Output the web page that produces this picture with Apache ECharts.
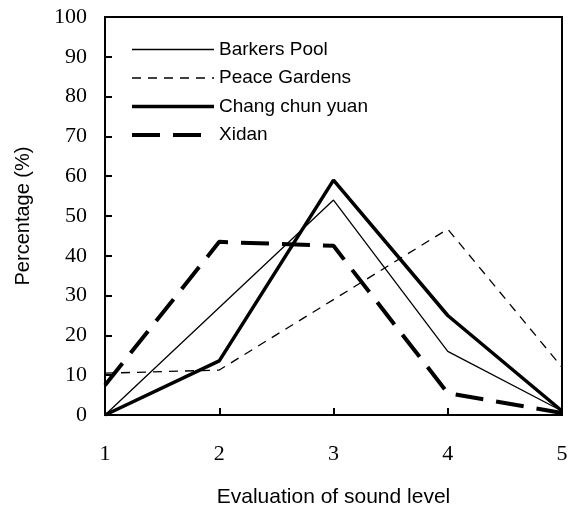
<!DOCTYPE html>
<html>
<head>
<meta charset="utf-8">
<script src="https://cdn.jsdelivr.net/npm/echarts@6/dist/echarts.min.js"></script>
<style>
  body { margin: 0; background: #fff; }
  #chart { width: 578px; height: 513px; }
</style>
</head>
<body>
<div id="chart"></div>
<script>
  // evaluation levels on the x axis
  var levels = [1, 2, 3, 4, 5];
  var barkersPool = [0, 27, 54, 16, 1];
  var peaceGardens = [10.5, 11.3, 29, 46.7, 12];
  var changChunYuan = [0, 13.6, 59, 25, 1];
  var xidan = [7.5, 43.5, 42.5, 5.5, 0.5];

  function pairs(vals) {
    return levels.map(function (x, i) { return [x, vals[i]]; });
  }

  var chart = echarts.init(document.getElementById('chart'));
  var option = {
    animation: false,
    backgroundColor: '#fff',
    grid: {
      left: 105, top: 17, right: 16, bottom: 95,
      show: true, borderColor: '#000', borderWidth: 2
    },
    legend: {
      orient: 'vertical',
      left: 125, top: 35,
      itemWidth: 82, itemHeight: 14,
      itemGap: 9.5,
      itemStyle: { opacity: 0 },
      lineStyle: { width: 'inherit' },
      textStyle: { fontFamily: 'Liberation Sans', fontSize: 19, color: '#000' },
      data: ['Barkers Pool', 'Peace Gardens', 'Chang chun yuan', 'Xidan']
    },
    xAxis: {
      type: 'value', min: 1, max: 5, interval: 1,
      name: 'Evaluation of sound level',
      nameLocation: 'middle', nameGap: 72,
      nameTextStyle: { fontFamily: 'Liberation Sans', fontSize: 21, color: '#000' },
      axisLine: { lineStyle: { color: '#000', width: 2 } },
      axisTick: { inside: true, length: 7, lineStyle: { color: '#000', width: 2 } },
      axisLabel: { margin: 28, fontFamily: 'Liberation Serif', fontSize: 22, color: '#000' },
      splitLine: { show: false }
    },
    yAxis: {
      type: 'value', min: 0, max: 100, interval: 10,
      name: 'Percentage (%)',
      nameLocation: 'middle', nameGap: 72,
      nameTextStyle: { fontFamily: 'Liberation Sans', fontSize: 20, color: '#000' },
      axisLine: { show: true, lineStyle: { color: '#000', width: 2 } },
      axisTick: { show: true, inside: true, length: 7, lineStyle: { color: '#000', width: 2 } },
      axisLabel: { margin: 18, fontFamily: 'Liberation Serif', fontSize: 22, color: '#000' },
      splitLine: { show: false }
    },
    series: [
      {
        name: 'Barkers Pool', type: 'line', symbol: 'none',
        data: pairs(barkersPool),
        lineStyle: { color: '#000', width: 1.3, type: 'solid' },
        itemStyle: { color: '#000' }
      },
      {
        name: 'Peace Gardens', type: 'line', symbol: 'none',
        data: pairs(peaceGardens),
        lineStyle: { color: '#000', width: 1.3, type: [9, 7] },
        itemStyle: { color: '#000' }
      },
      {
        name: 'Chang chun yuan', type: 'line', symbol: 'none',
        data: pairs(changChunYuan),
        lineStyle: { color: '#000', width: 3.5, type: 'solid' },
        itemStyle: { color: '#000' }
      },
      {
        name: 'Xidan', type: 'line', symbol: 'none',
        data: pairs(xidan),
        lineStyle: { color: '#000', width: 4, type: [28, 13] },
        itemStyle: { color: '#000' }
      }
    ]
  };
  chart.setOption(option);
</script>
</body>
</html>
